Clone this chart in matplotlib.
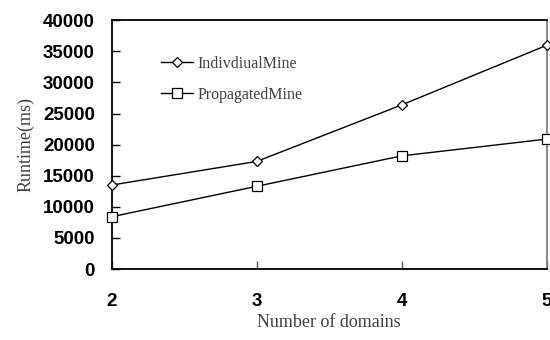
import matplotlib
matplotlib.use("Agg")
import matplotlib.pyplot as plt

domains = [2, 3, 4, 5]
individual = [13500, 17300, 26400, 36000]
propagated = [8400, 13300, 18200, 20900]
yticks = [0, 5000, 10000, 15000, 20000, 25000, 30000, 35000, 40000]

fig = plt.figure(figsize=(5.5, 3.4), dpi=100)
ax = fig.add_axes([111.5/550, (340-269)/340, (547-111.5)/550, (269-20.3)/340])

ax.plot(domains, individual, color='black', lw=1.0, marker='D', ms=5,
        mfc='white', mec='black', mew=0.9, label='IndivdiualMine', clip_on=False, zorder=3)
ax.plot(domains, propagated, color='black', lw=1.0, marker='s', ms=6.5,
        mfc='white', mec='black', mew=0.9, label='PropagatedMine', clip_on=False, zorder=3)

ax.set_xlim(2, 5)
ax.set_ylim(0, 40000)
ax.set_xticks(domains)
ax.set_yticks(yticks)
ax.set_xticklabels([str(d) for d in domains], fontfamily='Liberation Sans',
                   fontweight='bold', fontsize=13.5)
ax.set_yticklabels([str(v) for v in yticks], fontfamily='Liberation Sans',
                   fontweight='bold', fontsize=13.5)
ax.tick_params(axis='x', direction='in', length=6, width=1, pad=17, color='#555555')
ax.tick_params(axis='y', direction='in', length=6, width=1, pad=12)

for s in ['left', 'bottom', 'top']:
    ax.spines[s].set_linewidth(1.3)
    ax.spines[s].set_color('black')
ax.spines['right'].set_color('#808080')
ax.spines['right'].set_linewidth(1.3)

ax.set_xlabel('Number of domains', fontfamily='Liberation Serif', fontsize=13,
              color='#404040', labelpad=3)
ax.set_ylabel('Runtime(ms)', fontfamily='Liberation Serif', fontsize=13,
              color='#404040', labelpad=6)

leg = ax.legend(loc='upper left', bbox_to_anchor=(0.08, 0.915), frameon=False,
                prop={'family': 'Liberation Serif', 'size': 11.5},
                handlelength=2.0, labelspacing=0.95, handletextpad=0.3)
for t in leg.get_texts():
    t.set_color('#404040')

fig.savefig('out.png', dpi=100)
